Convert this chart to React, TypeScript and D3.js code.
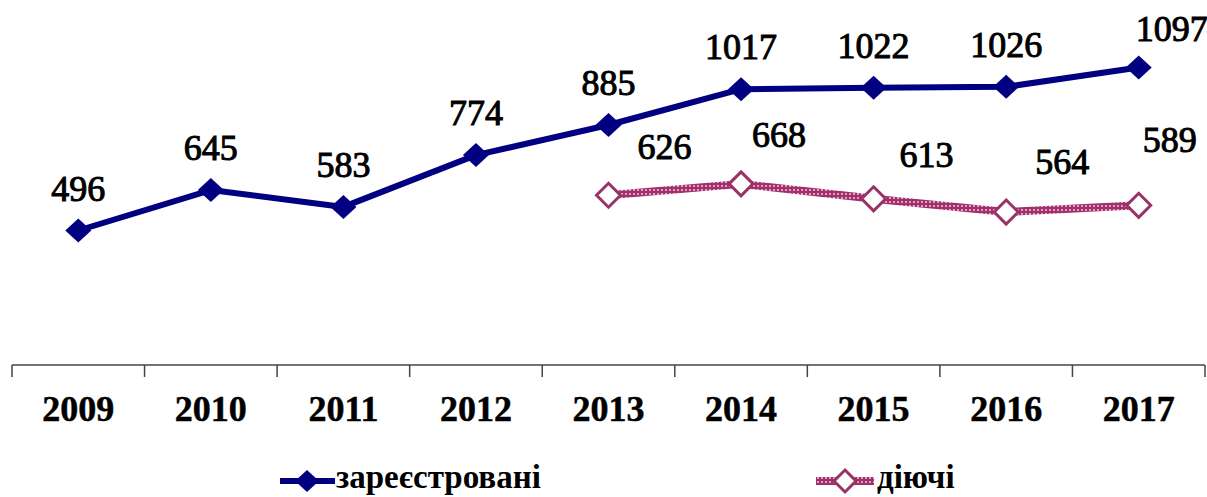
import React from "react";
import * as d3 from "d3";

const years = ["2009", "2010", "2011", "2012", "2013", "2014", "2015", "2016", "2017"];
const registered = [496, 645, 583, 774, 885, 1017, 1022, 1026, 1097];
const activeYears = ["2013", "2014", "2015", "2016", "2017"];
const active = [626, 668, 613, 564, 589];
const seriesNames = ["зареєстровані", "діючі"];

// label placement offsets (dx, dy from point)
const regLabelOffsets: [number, number][] = [
  [0, -30], [0, -30], [0, -30], [0, -30], [0, -30], [0, -30], [0, -30], [0, -30], [33, -27],
];
const actLabelOffsets: [number, number][] = [
  [56, -36], [38, -37], [53, -32], [56, -38], [31, -53],
];

const W = 1207;
const H = 497;
const BLUE = "#000080";
const PINK = "#993366";
const FONT = "'Liberation Serif', 'Times New Roman', serif";

export default function App() {
  const x = d3.scaleBand<string>().domain(years).range([12, 1205]).padding(0);
  const y = d3.scaleLinear().domain([0, 1200]).range([365, 39.6]);
  const cx = (yr: string) => (x(yr) as number) + x.bandwidth() / 2;

  const regPts: [number, number][] = years.map((yr, i) => [cx(yr), y(registered[i])]);
  const actPts: [number, number][] = activeYears.map((yr, i) => [cx(yr), y(active[i])]);
  const line = d3.line();

  const diamond = (px: number, py: number, hw: number, hh: number) =>
    `M${px},${py - hh}L${px + hw},${py}L${px},${py + hh}L${px - hw},${py}Z`;

  const y0 = y(0);
  const tickXs = d3.range(years.length + 1).map((i) => 12 + i * x.bandwidth());

  return (
    <svg
      width={W}
      height={H}
      style={{ position: "absolute", left: 0, top: 0, background: "#fff" }}
      fontFamily={FONT}
    >
      <defs>
        <pattern id="dots" width="4" height="4" patternUnits="userSpaceOnUse">
          <rect width="4" height="4" fill="#A3306C" />
          <circle cx="2" cy="2" r="0.9" fill="#f4d8e6" />
        </pattern>
      </defs>
      <rect width={W} height={H} fill="#fff" />

      {/* axis */}
      <line x1={12} x2={1205} y1={y0} y2={y0} stroke="#444" strokeWidth={1.5} />
      {tickXs.map((tx, i) => (
        <line key={i} x1={tx} x2={tx} y1={y0} y2={y0 + 12} stroke="#444" strokeWidth={1.5} />
      ))}
      {years.map((yr) => (
        <text
          key={yr}
          x={cx(yr)}
          y={421}
          textAnchor="middle"
          fontSize={36}
          fontWeight="bold"
          fill="#000"
          stroke="#000"
          strokeWidth={0.5}
        >
          {yr}
        </text>
      ))}

      {/* registered */}
      <path d={line(regPts) || ""} fill="none" stroke={BLUE} strokeWidth={6} strokeLinejoin="round" />
      {regPts.map(([px, py], i) => (
        <path key={i} d={diamond(px, py, 13, 12)} fill={BLUE} />
      ))}
      {regPts.map(([px, py], i) => (
        <text
          key={i}
          x={px + regLabelOffsets[i][0]}
          y={py + regLabelOffsets[i][1]}
          textAnchor="middle"
          fontSize={36}
          fill="#000"
          stroke="#000"
          strokeWidth={1}
        >
          {registered[i]}
        </text>
      ))}

      {/* active */}
      <path d={line(actPts) || ""} fill="none" stroke="url(#dots)" strokeWidth={8} strokeLinejoin="round" />
      {actPts.map(([px, py], i) => (
        <path key={i} d={diamond(px, py, 12, 12)} fill="#fff" stroke={PINK} strokeWidth={3} />
      ))}
      {actPts.map(([px, py], i) => (
        <text
          key={i}
          x={px + actLabelOffsets[i][0]}
          y={py + actLabelOffsets[i][1]}
          textAnchor="middle"
          fontSize={36}
          fill="#000"
          stroke="#000"
          strokeWidth={1}
        >
          {active[i]}
        </text>
      ))}

      {/* legend */}
      <g>
        <line x1={280} x2={335} y1={481} y2={481} stroke={BLUE} strokeWidth={6} />
        <path d={diamond(307, 481, 12, 11)} fill={BLUE} />
        <text x={336} y={488} fontSize={33} fontWeight="bold" fill="#000">
          {seriesNames[0]}
        </text>
      </g>
      <g>
        <line x1={816} x2={874} y1={481} y2={481} stroke="url(#dots)" strokeWidth={8} />
        <path d={diamond(845, 481, 11, 11)} fill="#fff" stroke={PINK} strokeWidth={3} />
        <text x={877} y={488} fontSize={33} fontWeight="bold" fill="#000">
          {seriesNames[1]}
        </text>
      </g>
    </svg>
  );
}
